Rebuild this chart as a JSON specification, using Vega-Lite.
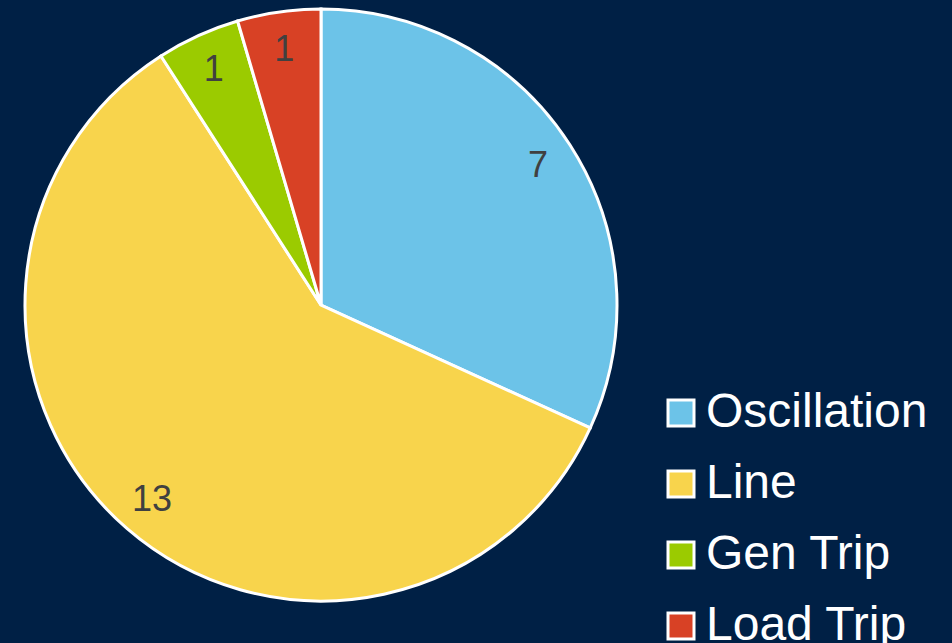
{
  "$schema": "https://vega.github.io/schema/vega-lite/v6.json",
  "width": 594,
  "height": 594,
  "autosize": {"type": "none"},
  "padding": {"left": 24, "top": 8, "right": 334, "bottom": 41},
  "background": "#002045",
  "config": {"view": {"stroke": null}, "font": "Liberation Sans"},
  "data": {
    "values": [
      {"cause": "Oscillation", "count": 7, "order": 1},
      {"cause": "Line", "count": 13, "order": 2},
      {"cause": "Gen Trip", "count": 1, "order": 3},
      {"cause": "Load Trip", "count": 1, "order": 4}
    ]
  },
  "encoding": {
    "theta": {"field": "count", "type": "quantitative", "stack": true},
    "order": {"field": "order", "type": "quantitative"},
    "color": {
      "field": "cause",
      "type": "nominal",
      "sort": ["Oscillation", "Line", "Gen Trip", "Load Trip"],
      "scale": {
        "domain": ["Oscillation", "Line", "Gen Trip", "Load Trip"],
        "range": ["#6CC3E8", "#F8D44C", "#9BCB00", "#D84125"]
      },
      "legend": {
        "title": null,
        "orient": "none",
        "legendX": 633,
        "legendY": 381,
        "symbolType": "square",
        "symbolSize": 676,
        "symbolStrokeColor": "white",
        "symbolStrokeWidth": 3,
        "symbolOpacity": 1,
        "labelColor": "white",
        "labelFontSize": 48,
        "labelFont": "Liberation Sans",
        "labelOffset": 1,
        "rowPadding": 23,
        "labelLimit": 400
      }
    }
  },
  "layer": [
    {
      "mark": {"type": "arc", "outerRadius": 296, "stroke": "white", "strokeWidth": 3}
    },
    {
      "mark": {"type": "text", "radius": 258, "fontSize": 36, "fill": "#404040", "font": "Liberation Sans"},
      "encoding": {
        "text": {"field": "count", "type": "quantitative"},
        "color": {"value": "#404040"}
      }
    }
  ]
}
